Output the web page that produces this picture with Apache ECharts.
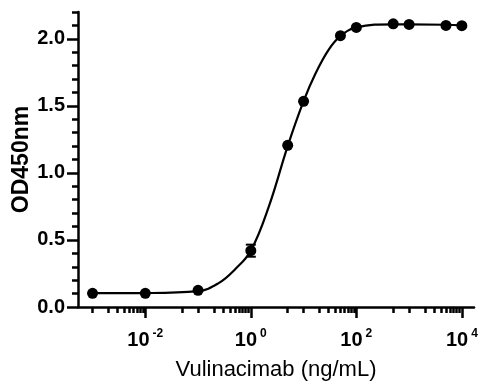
<!DOCTYPE html>
<html>
<head>
<meta charset="utf-8">
<script src="https://cdn.jsdelivr.net/npm/echarts@6/dist/echarts.min.js"></script>
<style>
html,body{margin:0;padding:0;background:#fff;}
#chart{width:484px;height:390px;}
</style>
</head>
<body>
<div id="chart"></div>
<script>
// Measured data (concentration in ng/mL, OD450)
const conc = [0.001, 0.01, 0.1, 1, 5, 10, 50, 100, 500, 1000, 5000, 10000];
const od = [0.102, 0.102, 0.124, 0.42, 1.206, 1.534, 2.023, 2.085, 2.112, 2.107, 2.100, 2.098];
const odErr = [0, 0, 0, 0.045, 0, 0, 0, 0, 0, 0, 0, 0];

// Fitted curve
const fitX = [0.001, 0.01, 0.1, 0.25, 0.5, 1, 2.2, 5, 10, 17, 30, 50, 100, 500, 1000, 5000, 10000];
const fitY = [0.103, 0.104, 0.118, 0.18, 0.28, 0.42, 0.75, 1.20, 1.535, 1.745, 1.92, 2.02, 2.085, 2.108, 2.108, 2.105, 2.10];

// Axis ticks
const xMajorTicks = [0.01, 1, 100, 10000];
const xMajorExps = ['-2', '0', '2', '4'];
const xMinorTicks = [0.001, 0.002, 0.003, 0.004, 0.005, 0.006, 0.007, 0.008, 0.009,
  0.05, 0.1, 0.2, 0.3, 0.4, 0.5, 0.6, 0.7, 0.8, 0.9,
  5, 10, 20, 30, 40, 50, 60, 70, 80, 90,
  500, 1000, 2000, 3000, 4000, 5000, 6000, 7000, 8000, 9000];
const xMin = 0.00053, xMax = 17000;
const yMajorTicks = [0, 0.5, 1.0, 1.5, 2.0];
const yMinorTicks = [0.1, 0.2, 0.3, 0.4, 0.6, 0.7, 0.8, 0.9, 1.1, 1.2, 1.3, 1.4, 1.6, 1.7, 1.8, 1.9, 2.1, 2.2];
const yMin = 0, yMax = 2.2;

const xTitle = 'Vulinacimab (ng/mL)';
const yTitle = 'OD450nm';

const FONT = 'Liberation Sans, Arial, sans-serif';
const chart = echarts.init(document.getElementById('chart'), null, {renderer: 'canvas'});

const lineSty = {color: '#000', width: 2.5};

chart.setOption({
  animation: false,
  backgroundColor: '#fff',
  grid: {left: 78, right: 10, top: 12, bottom: 83, containLabel: false, outerBoundsMode: 'none'},
  xAxis: [{
    type: 'log', logBase: 10, min: xMin, max: xMax,
    name: xTitle, nameLocation: 'middle', nameGap: 52, nameMoveOverlap: false,
    nameTextStyle: {fontFamily: FONT, fontSize: 22, color: '#000'},
    axisLine: {show: true, lineStyle: lineSty},
    axisTick: {show: true, length: 11, lineStyle: lineSty, customValues: xMajorTicks},
    axisLabel: {
      show: true, margin: 21, customValues: xMajorTicks,
      formatter: function (v) {
        let e = '';
        for (let i = 0; i < xMajorTicks.length; i++) {
          if (Math.abs(Math.log10(v) - Math.log10(xMajorTicks[i])) < 1e-6) e = xMajorExps[i];
        }
        return '{b|10}{s|' + e + '}';
      },
      rich: {
        b: {fontFamily: FONT, fontSize: 20, fontWeight: 'bold', color: '#000', lineHeight: 22, verticalAlign: 'bottom'},
        s: {fontFamily: FONT, fontSize: 12, fontWeight: 'bold', color: '#000', lineHeight: 22, verticalAlign: 'top', padding: [0, 0, 0, 3]}
      }
    },
    splitLine: {show: false}, minorTick: {show: false}
  }, {
    type: 'log', logBase: 10, min: xMin, max: xMax, position: 'bottom', offset: 0,
    axisLine: {show: false},
    axisTick: {show: true, length: 6, lineStyle: lineSty, customValues: xMinorTicks},
    axisLabel: {show: false},
    splitLine: {show: false}
  }],
  yAxis: [{
    type: 'value', min: yMin, max: yMax,
    name: yTitle, nameLocation: 'middle', nameGap: 45, nameRotate: 90, nameMoveOverlap: false,
    nameTextStyle: {fontFamily: FONT, fontSize: 23, fontWeight: 'bold', color: '#000'},
    axisLine: {show: true, lineStyle: lineSty},
    axisTick: {show: true, length: 11, lineStyle: lineSty, customValues: yMajorTicks},
    axisLabel: {
      show: true, margin: 13, customValues: yMajorTicks,
      fontFamily: FONT, fontSize: 20, fontWeight: 'bold', color: '#000',
      formatter: function (v) { return v.toFixed(1); }
    },
    splitLine: {show: false}
  }, {
    type: 'value', min: yMin, max: yMax, position: 'left', offset: 0,
    axisLine: {show: false},
    axisTick: {show: true, length: 6, lineStyle: lineSty, customValues: yMinorTicks},
    axisLabel: {show: false},
    splitLine: {show: false}
  }],
  series: [{
    type: 'line', name: 'fit', xAxisIndex: 0, yAxisIndex: 0,
    data: fitX.map((x, i) => [x, fitY[i]]),
    smooth: 0.4, showSymbol: false, symbol: 'none',
    lineStyle: {color: '#000', width: 2.2}, z: 2, silent: true
  }, {
    type: 'custom', name: 'err', xAxisIndex: 0, yAxisIndex: 0,
    data: conc.map((x, i) => [x, od[i], odErr[i]]),
    renderItem: function (params, api) {
      const x = api.value(0), y = api.value(1), e = api.value(2);
      if (!(e > 0)) return null;
      const top = api.coord([x, y + e]);
      const bot = api.coord([x, y - e]);
      const hw = 5;
      return {
        type: 'group',
        children: [
          {type: 'line', shape: {x1: top[0], y1: top[1], x2: bot[0], y2: bot[1]}, style: {stroke: '#000', lineWidth: 2}},
          {type: 'line', shape: {x1: top[0] - hw, y1: top[1], x2: top[0] + hw, y2: top[1]}, style: {stroke: '#000', lineWidth: 2}},
          {type: 'line', shape: {x1: bot[0] - hw, y1: bot[1], x2: bot[0] + hw, y2: bot[1]}, style: {stroke: '#000', lineWidth: 2}}
        ]
      };
    },
    z: 3, silent: true
  }, {
    type: 'scatter', name: 'data', xAxisIndex: 0, yAxisIndex: 0,
    data: conc.map((x, i) => [x, od[i]]),
    symbol: 'circle', symbolSize: 11,
    itemStyle: {color: '#000', opacity: 1}, z: 4, silent: true
  }]
});
</script>
</body>
</html>
